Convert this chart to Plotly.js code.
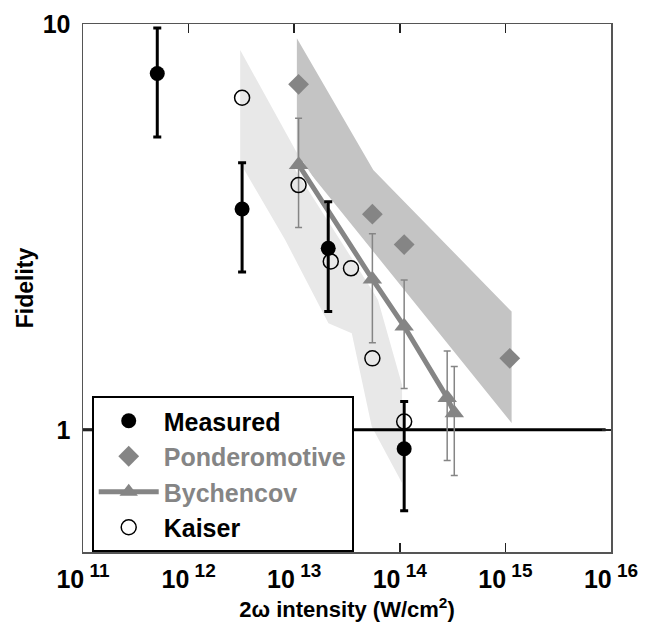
<!DOCTYPE html>
<html>
<head>
<meta charset="utf-8">
<script src="https://cdn.plot.ly/plotly-3.0.1.min.js"></script>
<style>html,body{margin:0;padding:0;background:#fff;}#chart{width:653px;height:629px;}</style>
</head>
<body>
<div id="chart"></div>
<script>
// ---- data ----
const measuredX = [5.05e11, 3.21e12, 2.1e13, 1.1e14];
const measuredY = [7.55, 3.50, 2.80, 0.898];
const measuredHi = [9.78, 4.55, 3.65, 1.174];
const measuredLo = [5.27, 2.45, 1.956, 0.632];

const pondX = [1.1e13, 5.5e13, 1.1e14, 1.1e15];
const pondY = [7.1, 3.40, 2.86, 1.50];

const bychX = [1.1e13, 5.5e13, 1.1e14, 2.81e14, 3.28e14];
const bychY = [4.50, 2.35, 1.80, 1.20, 1.10];
const bychHi = [5.86, 3.04, 2.34, 1.565, 1.432];
const bychLo = [3.15, 1.64, 1.264, 0.84, 0.772];

const kaiserX = [3.21e12, 1.1e13, 2.22e13, 3.45e13, 5.5e13, 1.1e14];
const kaiserY = [6.58, 4.01, 2.60, 2.50, 1.50, 1.048];

// shaded ranges (polygon outlines)
const lightBandX = [3.08e12, 6.22e13, 1.05e14, 1.05e14, 5.42e13, 3.51e13, 2.11e13, 8.2e12, 3.08e12];
const lightBandY = [8.63, 2.09, 1.29, 0.74, 1.019, 1.73, 1.83, 2.94, 4.55];
const darkBandX = [1.06e13, 5.61e13, 1.145e15, 1.145e15, 1.06e13];
const darkBandY = [9.22, 4.37, 1.956, 1.039, 4.71];

const unityX = [1e11, 8.9e15];
const unityY = [1, 1];

const xTickVals = [1e11, 1e12, 1e13, 1e14, 1e15, 1e16];
const xTickExp = ['11', '12', '13', '14', '15', '16'];
const yTickVals = [1, 10];
const yTickText = ['1', '10'];

// ---- styling ----
const FONT = 'Liberation Sans, Arial, Helvetica, sans-serif';
const GRAY = '#858585';
const diff = (a, b) => a.map((v, i) => v - b[i]);
const xTickText = xTickExp.map(e => '10<sup><span style="font-size:19px"> ' + e + '</span></sup>');

const traces = [
  {x: lightBandX, y: lightBandY, mode: 'lines', fill: 'toself', fillcolor: '#e8e8e8',
   line: {width: 0, color: '#e8e8e8'}, showlegend: false, hoverinfo: 'skip'},
  {x: darkBandX, y: darkBandY, mode: 'lines', fill: 'toself', fillcolor: '#c4c4c4',
   line: {width: 0, color: '#c4c4c4'}, showlegend: false, hoverinfo: 'skip'},
  {x: bychX, y: bychY, mode: 'lines', line: {color: '#ffffff', width: 11},
   showlegend: false, hoverinfo: 'skip'},
  {x: unityX, y: unityY, mode: 'lines', line: {color: '#000', width: 3},
   showlegend: false, hoverinfo: 'skip'},
  {x: bychX, y: bychY, mode: 'lines+markers', name: '<span style="color:#858585">Bychencov</span>',
   legendrank: 3,
   line: {color: GRAY, width: 5},
   marker: {symbol: 'triangle-up', size: 17, color: GRAY},
   error_y: {type: 'data', symmetric: false, array: diff(bychHi, bychY), arrayminus: diff(bychY, bychLo),
             color: GRAY, thickness: 1.5, width: 3.5}},
  {x: pondX, y: pondY, mode: 'markers', name: '<span style="color:#858585">Ponderomotive</span>',
   legendrank: 2,
   marker: {symbol: 'diamond', size: 16, color: GRAY}},
  {x: kaiserX, y: kaiserY, mode: 'markers', name: 'Kaiser', legendrank: 4,
   marker: {symbol: 'circle-open', size: 15, color: '#000', line: {width: 1.5, color: '#000'}}},
  {x: measuredX, y: measuredY, mode: 'markers', name: 'Measured', legendrank: 1,
   marker: {symbol: 'circle', size: 15, color: '#000'},
   error_y: {type: 'data', symmetric: false, array: diff(measuredHi, measuredY), arrayminus: diff(measuredY, measuredLo),
             color: '#000', thickness: 3, width: 4}}
];

const axisCommon = {
  type: 'log', showgrid: false, zeroline: false,
  ticks: 'inside', ticklen: 9, tickwidth: 1.5, tickcolor: '#222',
  showline: true, linecolor: '#555', linewidth: 1.5, mirror: 'ticks',
  tickfont: {family: FONT, size: 25, color: '#000', weight: 'bold'}
};

const layout = {
  width: 653, height: 629,
  margin: {l: 83, r: 42, t: 24, b: 77, pad: 0},
  paper_bgcolor: '#fff', plot_bgcolor: '#fff',
  font: {family: FONT, color: '#000'},
  xaxis: Object.assign({}, axisCommon, {
    range: [11, 16], tickmode: 'array', tickvals: xTickVals, ticktext: xTickText,
    ticklabelstandoff: 4, automargin: true,
    title: {text: '2ω intensity (W/cm<sup>2</sup>)', standoff: 10,
            font: {family: FONT, size: 22, color: '#000', weight: 'bold'}}
  }),
  yaxis: Object.assign({}, axisCommon, {
    range: [Math.log10(0.5), 1], tickmode: 'array', tickvals: yTickVals, ticktext: yTickText,
    ticklabelstandoff: 6,
    title: {text: 'Fidelity', standoff: 2,
            font: {family: FONT, size: 23, color: '#000', weight: 'bold'}}
  }),
  legend: {
    x: 0.0165, y: 0.0, xanchor: 'left', yanchor: 'bottom',
    bgcolor: '#fff', bordercolor: '#000', borderwidth: 2,
    font: {family: FONT, size: 25, color: '#000', weight: 'bold'},
    tracegroupgap: 0, itemwidth: 60
  },
  showlegend: true
};

Plotly.newPlot('chart', traces, layout, {displayModeBar: false, staticPlot: true});
</script>
</body>
</html>
